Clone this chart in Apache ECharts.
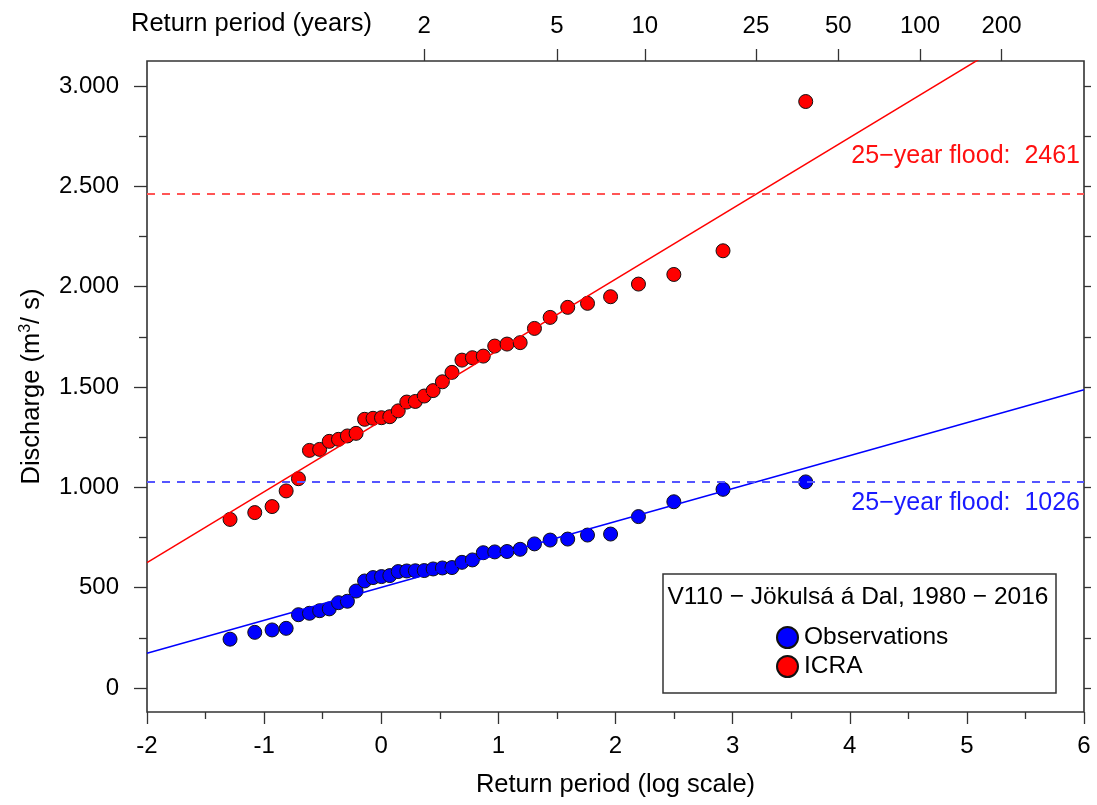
<!DOCTYPE html>
<html><head><meta charset="utf-8">
<script src="https://cdn.jsdelivr.net/npm/echarts@6/dist/echarts.min.js"></script>
<style>html,body{margin:0;padding:0;background:#fff}#c{width:1097px;height:805px}</style>
</head><body><div id="c"></div>
<script>
// Gumbel reduced variate (plotting positions) of the 37 ranked years
const reducedVariate = [-1.291, -1.080, -0.932, -0.812, -0.707, -0.613, -0.526, -0.444, -0.365, -0.289, -0.215, -0.142, -0.070, 0.002, 0.073, 0.145, 0.218, 0.291, 0.367, 0.443, 0.522, 0.604, 0.689, 0.778, 0.871, 0.969, 1.074, 1.186, 1.308, 1.442, 1.592, 1.761, 1.958, 2.196, 2.498, 2.918, 3.624];
const observations = [243, 277, 289, 297, 365, 372, 385, 394, 425, 432, 483, 533, 550, 555, 560, 580, 583, 584, 585, 593, 598, 600, 626, 638, 674, 678, 680, 691, 718, 737, 742, 762, 767, 854, 928, 990, 1027];
const icra = [840, 874, 904, 982, 1043, 1184, 1189, 1229, 1239, 1256, 1269, 1339, 1344, 1347, 1352, 1381, 1425, 1428, 1455, 1482, 1526, 1573, 1634, 1646, 1654, 1704, 1714, 1721, 1792, 1847, 1897, 1917, 1950, 2013, 2061, 2179, 2923];
const obsFitEnds = [[-2, 173], [6, 1486]];
const icraFitEnds = [[-2, 625], [6, 3450]];
const obsFlood25 = 1026;
const icraFlood25 = 2461;
const topPeriods = [2, 5, 10, 25, 50, 100, 200];
const yLabelValues = [0, 500, 1000, 1500, 2000, 2500, 3000];
const yMinorTickValues = [250, 750, 1250, 1750, 2250, 2750];
const yAllTickValues = [0, 250, 500, 750, 1000, 1250, 1500, 1750, 2000, 2250, 2500, 2750, 3000];

const FONT = 'Liberation Sans, Arial, Helvetica, sans-serif';
const gumbel = T => -Math.log(-Math.log(1 - 1 / T));
const topPos = topPeriods.map(gumbel);
const fmtY = v => v >= 1000 ? Math.floor(v / 1000) + '.' + String(v % 1000).padStart(3, '0') : String(v);
const pairs = arr => reducedVariate.map((x, i) => [x, arr[i]]);

const chart = echarts.init(document.getElementById('c'), null, {renderer: 'canvas'});
const tickStyle = {color: '#333', width: 1.3};
const yBase = {type: 'value', min: -120, max: 3125, splitLine: {show: false}, axisLine: {show: false, onZero: false}};
chart.setOption({
  animation: false,
  backgroundColor: '#fff',
  textStyle: {fontFamily: FONT},
  title: {text: 'Return period (years)', left: 131, top: 11, padding: 0,
    textStyle: {fontSize: 25.5, fontWeight: 'normal', color: '#000', fontFamily: FONT}},
  grid: {left: 147, right: 13, top: 61, bottom: 93, show: true, borderColor: '#333', borderWidth: 1.6, backgroundColor: 'transparent'},
  xAxis: [
    {type: 'value', position: 'bottom', min: -2, max: 6, interval: 1,
      axisLine: {show: false, onZero: false}, splitLine: {show: false},
      axisTick: {show: true, length: 12, lineStyle: tickStyle},
      minorTick: {show: true, splitNumber: 2, length: 7, lineStyle: tickStyle},
      minorSplitLine: {show: false},
      axisLabel: {margin: 22, fontSize: 24, color: '#000', fontFamily: FONT},
      name: 'Return period (log scale)', nameLocation: 'middle', nameGap: 60,
      nameTextStyle: {fontSize: 25.5, color: '#000', fontFamily: FONT}},
    {type: 'value', position: 'top', min: -2, max: 6,
      axisLine: {show: false, onZero: false}, splitLine: {show: false},
      axisTick: {show: true, length: 12, customValues: topPos, lineStyle: tickStyle},
      axisLabel: {customValues: topPos, margin: 23, fontSize: 24, color: '#000', fontFamily: FONT,
        formatter: v => String(Math.round(1 / (1 - Math.exp(-Math.exp(-v)))))}}
  ],
  yAxis: [
    Object.assign({}, yBase, {position: 'left',
      axisTick: {show: true, length: 13, customValues: yLabelValues, lineStyle: tickStyle},
      axisLabel: {customValues: yLabelValues, formatter: fmtY, margin: 28, fontSize: 24, color: '#000', fontFamily: FONT},
      name: 'Discharge (m{sup|3}/ s)', nameLocation: 'middle', nameGap: 101, nameRotate: 90,
      nameTextStyle: {fontSize: 25.5, color: '#000', fontFamily: FONT,
        rich: {sup: {fontSize: 16, color: '#000', fontFamily: FONT, padding: [0, 0, 12, 0]}}}}),
    Object.assign({}, yBase, {position: 'left',
      axisTick: {show: true, length: 8, customValues: yMinorTickValues, lineStyle: tickStyle},
      axisLabel: {show: false}}),
    Object.assign({}, yBase, {position: 'right',
      axisTick: {show: true, length: 7, customValues: yAllTickValues, lineStyle: tickStyle},
      axisLabel: {show: false}})
  ],
  legend: {data: ['Observations', 'ICRA'], orient: 'vertical', left: 771, top: 620,
    itemWidth: 21, itemHeight: 21, itemGap: 4, icon: 'circle', z: 20, selectedMode: false,
    textStyle: {fontSize: 24.5, color: '#000', fontFamily: FONT, padding: [0, 0, 0, 1]}},
  graphic: [
    {type: 'rect', z: 15, shape: {x: 663, y: 574, width: 393, height: 119},
      style: {fill: '#fff', stroke: '#333', lineWidth: 1.5}},
    {type: 'text', z: 16, x: 858, y: 597,
      style: {text: 'V110 − Jökulsá á Dal, 1980 − 2016', fontSize: 24.5, fontFamily: FONT, fill: '#000', align: 'center', verticalAlign: 'middle'}}
  ],
  series: [
    {name: 'ICRA fit', type: 'line', data: icraFitEnds, symbol: 'none', silent: true, clip: true,
      lineStyle: {color: '#ff0000', width: 1.5},
      markLine: {symbol: 'none', silent: true,
        lineStyle: {color: '#ff5555', type: [8, 7], width: 2},
        label: {position: 'insideEndTop', formatter: '25−year flood:  ' + icraFlood25, color: '#ff1010', fontSize: 25, fontFamily: FONT, distance: [4, 26]},
        data: [{yAxis: icraFlood25}]}},
    {name: 'Obs fit', type: 'line', data: obsFitEnds, symbol: 'none', silent: true, clip: true,
      lineStyle: {color: '#0000ff', width: 1.5},
      markLine: {symbol: 'none', silent: true,
        lineStyle: {color: '#5555ff', type: [8, 7], width: 2},
        label: {position: 'insideEndBottom', formatter: '25−year flood:  ' + obsFlood25, color: '#1a1aff', fontSize: 25, fontFamily: FONT, distance: [4, 9]},
        data: [{yAxis: obsFlood25}]}},
    {name: 'Observations', type: 'scatter', data: pairs(observations), symbolSize: 14,
      itemStyle: {color: '#0000ff', borderColor: '#111', borderWidth: 1, opacity: 1}},
    {name: 'ICRA', type: 'scatter', data: pairs(icra), symbolSize: 14,
      itemStyle: {color: '#ff0000', borderColor: '#111', borderWidth: 1, opacity: 1}}
  ]
});
</script></body></html>
